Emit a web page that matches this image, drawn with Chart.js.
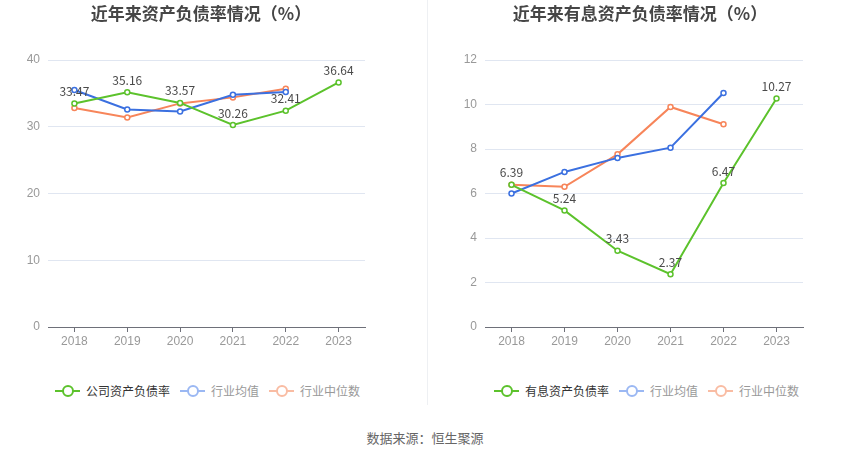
<!DOCTYPE html>
<html>
<head>
<meta charset="utf-8">
<script src="https://cdn.jsdelivr.net/npm/chart.js@4.4.0/dist/chart.umd.min.js"></script>
<style>
  body { margin: 0; width: 850px; height: 458px; background: #fff; font-family: "Noto Sans CJK SC", "Noto Sans", sans-serif; position: relative; overflow: hidden; }
  .box { position: absolute; top: 0; width: 425px; height: 360px; }
  .divider { position: absolute; left: 427px; top: 0; width: 1px; height: 405px; background: #eef0f3; }
  .legend { position: absolute; top: 382px; font-size: 12px; display: flex; align-items: center; }
  .item { display: flex; align-items: center; margin-right: 10px; color: #999; }
  .item.on { color: #333; }
  .mark { position: relative; width: 25px; height: 14px; margin-right: 6px; }
  .mark .ln { position: absolute; left: 0; top: 6px; width: 25px; height: 2px; }
  .mark .dot { position: absolute; left: 6.5px; top: 1.5px; width: 8px; height: 8px; border-radius: 50%; background: #fff; border: 2px solid; }
  .source { position: absolute; top: 428px; width: 850px; text-align: center; font-size: 13px; color: #666; }
</style>
</head>
<body>
<div class="box" style="left:0"><canvas id="c1" width="425" height="360"></canvas></div>
<div class="box" style="left:425px"><canvas id="c2" width="425" height="360"></canvas></div>
<div class="divider"></div>
<div class="legend" id="lg1" style="left:55px"></div>
<div class="legend" id="lg2" style="left:494px"></div>
<div class="source">数据来源：恒生聚源</div>
<script>
// 数据
const years = ["2018", "2019", "2020", "2021", "2022", "2023"];

const debtRatio = [33.47, 35.16, 33.57, 30.26, 32.41, 36.64];
const debtAvg = [35.5, 32.6, 32.3, 34.8, 35.2, null];
const debtMedian = [32.8, 31.4, 33.5, 34.4, 35.7, null];

const interestRatio = [6.39, 5.24, 3.43, 2.37, 6.47, 10.27];
const interestAvg = [6.0, 6.97, 7.6, 8.06, 10.52, null];
const interestMedian = [6.39, 6.3, 7.76, 9.89, 9.11, null];

const GREEN = "#5cc22c", BLUE = "#3b70e0", ORANGE = "#f7855a";

// 标签 + 标题
const labelPlugin = {
  id: "labels",
  afterDatasetsDraw(chart, args, opts) {
    const ctx = chart.ctx;
    const meta = chart.getDatasetMeta(0);
    const data = chart.data.datasets[0].data;
    ctx.save();
    ctx.font = "12px 'Noto Sans CJK SC', sans-serif";
    ctx.fillStyle = "#4a4a4a";
    ctx.textAlign = "center";
    ctx.textBaseline = "bottom";
    meta.data.forEach((pt, i) => {
      ctx.fillText(data[i].toFixed(2), pt.x, pt.y - 6);
    });
    ctx.font = "bold 17px 'Noto Sans CJK SC', sans-serif";
    ctx.fillStyle = "#464646";
    ctx.textBaseline = "middle";
    ctx.fillText(opts.text, opts.x, 14);
    ctx.restore();
  }
};

const makeSet = (label, data, color) => ({
  label: label,
  data: data,
  borderColor: color,
  backgroundColor: "#fff",
  pointBorderColor: color,
  pointBackgroundColor: "#fff",
  borderWidth: 2,
  pointRadius: 2.5,
  pointBorderWidth: 1.5,
  tension: 0
});

const makeChart = (id, title, titleX, sets, max, step, leftW, rightPad) => {
  new Chart(document.getElementById(id), {
    type: "line",
    data: { labels: years, datasets: sets },
    options: {
      responsive: false,
      animation: false,
      layout: { padding: { top: 60, right: rightPad, left: 0, bottom: 0 } },
      plugins: {
        legend: { display: false },
        tooltip: { enabled: false },
        labels: { text: title, x: titleX }
      },
      scales: {
        x: {
          offset: true,
          grid: { display: true, drawOnChartArea: false, drawTicks: true, offset: false, tickLength: 5, color: "#6e7079" },
          border: { color: "#6e7079" },
          ticks: { color: "#999", font: { size: 12 }, padding: 2 },
          afterFit: (s) => { s.height = 33; }
        },
        y: {
          min: 0, max: max,
          ticks: { stepSize: step, color: "#999", font: { size: 12 }, padding: 8 },
          grid: { color: "#e0e6f1", drawTicks: false },
          border: { display: false },
          afterFit: (s) => { s.width = leftW; }
        }
      }
    },
    plugins: [labelPlugin]
  });
};

makeChart("c1", "近年来资产负债率情况（%）", 201, [
  makeSet("公司资产负债率", debtRatio, GREEN),
  makeSet("行业均值", debtAvg, BLUE),
  makeSet("行业中位数", debtMedian, ORANGE)
], 40, 10, 48, 60);

makeChart("c2", "近年来有息资产负债率情况（%）", 215, [
  makeSet("有息资产负债率", interestRatio, GREEN),
  makeSet("行业均值", interestAvg, BLUE),
  makeSet("行业中位数", interestMedian, ORANGE)
], 12, 2, 60, 47);

// 图例
const buildLegend = (id, names) => {
  const colors = [GREEN, "#9bb8f3", "#f9bca3"];
  const el = document.getElementById(id);
  names.forEach((n, i) => {
    const it = document.createElement("div");
    it.className = "item" + (i === 0 ? " on" : "");
    it.innerHTML = '<span class="mark"><span class="ln" style="background:' + colors[i] + '"></span>' +
      '<span class="dot" style="border-color:' + colors[i] + '"></span></span>' + n;
    el.appendChild(it);
  });
};
buildLegend("lg1", ["公司资产负债率", "行业均值", "行业中位数"]);
buildLegend("lg2", ["有息资产负债率", "行业均值", "行业中位数"]);
</script>
</body>
</html>
